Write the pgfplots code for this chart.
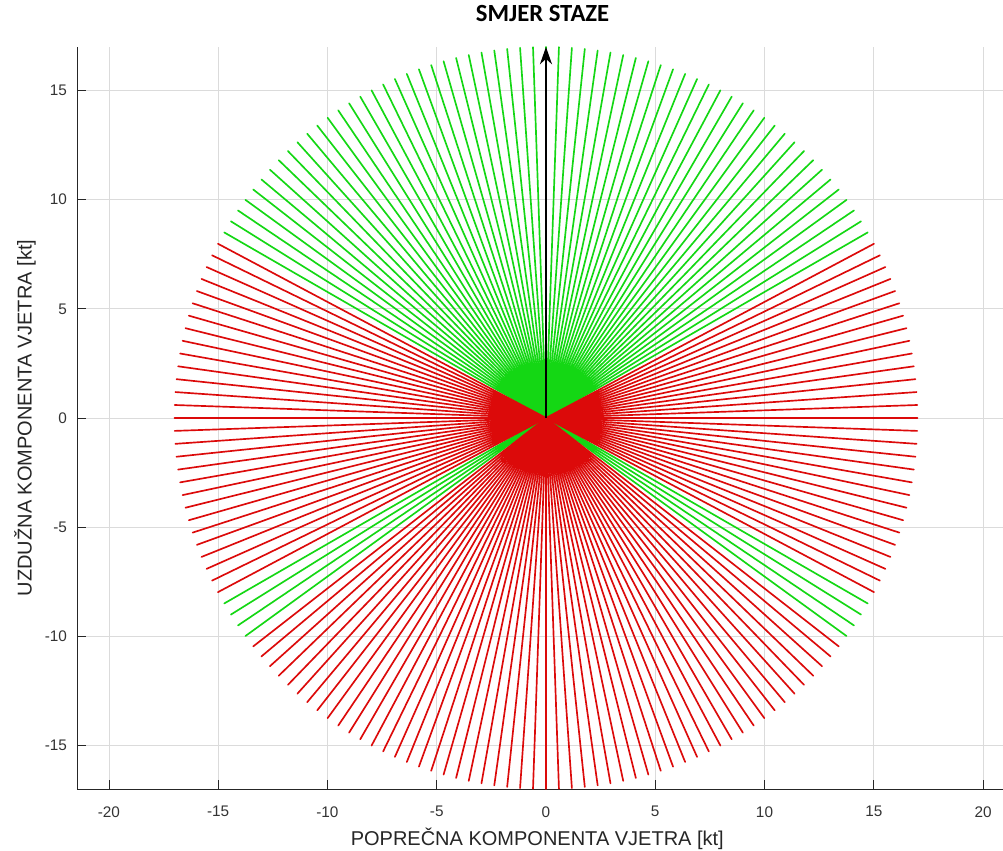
\documentclass[border=0pt]{standalone}
\usepackage{fontspec}
\setmainfont{Liberation Sans}
\newfontfamily\carlito{Carlito}
\usepackage{pgfplots}
\pgfplotsset{compat=1.18}
\usetikzlibrary{arrows.meta}
\definecolor{raygreen}{RGB}{20,215,20}
\definecolor{rayred}{RGB}{220,10,10}
\begin{document}
\begin{tikzpicture}
\useasboundingbox (0,0) rectangle (752.25pt,637.5pt);
\begin{axis}[
  at={(57.75pt,45.75pt)}, anchor=south west,
  x=16.39pt, y=16.37pt,
  xmin=-21.46, xmax=20.92, ymin=-17, ymax=17,
  clip=false,
  axis x line*=bottom, axis y line*=left,
  axis line style={-, black!85, line width=0.6pt},
  tick pos=left, tick align=inside,
  tick style={black!85, line width=0.6pt},
  major tick length=7pt,
  xtick={-20,-15,...,20}, ytick={-15,-10,...,15},
  grid=major,
  major grid style={black!14, line width=0.5pt},
  /pgf/number format/assume math mode=true,
  ticklabel style={font=\fontsize{11.5}{13}\selectfont, text=black!80},
  xticklabel shift=9.5pt,
  yticklabel shift=4pt,
  xlabel={POPREČNA KOMPONENTA VJETRA [kt]},
  ylabel={UZDUŽNA KOMPONENTA VJETRA [kt]},
  xlabel style={at={(axis description cs:0.497,-0.0768)}, anchor=base, font=\fontsize{15}{17}\selectfont, text=black!85},
  ylabel style={at={(axis description cs:-0.0489,0.5)}, anchor=base, rotate=0, font=\fontsize{15}{17}\selectfont, text=black!85},
  title={SMJER STAZE},
  title style={at={(axis description cs:0.5027,1.0229)}, anchor=base, font=\carlito\bfseries\fontsize{18.5}{20}\selectfont},
]
% green rays (angle in degrees, length in kt)
\addplot[data cs=polar, raygreen, line width=1.25pt, line join=round] coordinates {
(0,0) (30,17) (0,0) (32,17) (0,0) (34,17) (0,0) (36,17) (0,0) (38,17) (0,0) (40,17) (0,0) (42,17) (0,0) (44,17) (0,0) (46,17) (0,0) (48,17)
(0,0) (50,17) (0,0) (52,17) (0,0) (54,17) (0,0) (56,17) (0,0) (58,17) (0,0) (60,17) (0,0) (62,17) (0,0) (64,17) (0,0) (66,17) (0,0) (68,17)
(0,0) (70,17) (0,0) (72,17) (0,0) (74,17) (0,0) (76,17) (0,0) (78,17) (0,0) (80,17) (0,0) (82,17) (0,0) (84,17) (0,0) (86,17) (0,0) (88,17)
(0,0) (90,17) (0,0) (92,17) (0,0) (94,17) (0,0) (96,17) (0,0) (98,17) (0,0) (100,17) (0,0) (102,17) (0,0) (104,17) (0,0) (106,17) (0,0) (108,17)
(0,0) (110,17) (0,0) (112,17) (0,0) (114,17) (0,0) (116,17) (0,0) (118,17) (0,0) (120,17) (0,0) (122,17) (0,0) (124,17) (0,0) (126,17) (0,0) (128,17)
(0,0) (130,17) (0,0) (132,17) (0,0) (134,17) (0,0) (136,17) (0,0) (138,17) (0,0) (140,17) (0,0) (142,17) (0,0) (144,17) (0,0) (146,17) (0,0) (148,17)
(0,0) (150,17) (0,0)
};
\addplot[data cs=polar, raygreen, line width=1.25pt, line join=round] coordinates {
(0,0) (210,17) (0,0) (212,17) (0,0) (214,17) (0,0) (216,17) (0,0)
};
\addplot[data cs=polar, raygreen, line width=1.25pt, line join=round] coordinates {
(0,0) (324,17) (0,0) (326,17) (0,0) (328,17) (0,0) (330,17) (0,0)
};
% red rays
\addplot[data cs=polar, rayred, line width=1.25pt, line join=round] coordinates {
(0,0) (-28,17) (0,0) (-26,17) (0,0) (-24,17) (0,0) (-22,17) (0,0) (-20,17) (0,0) (-18,17) (0,0) (-16,17) (0,0) (-14,17) (0,0) (-12,17) (0,0) (-10,17)
(0,0) (-8,17) (0,0) (-6,17) (0,0) (-4,17) (0,0) (-2,17) (0,0) (0,17) (0,0) (2,17) (0,0) (4,17) (0,0) (6,17) (0,0) (8,17) (0,0) (10,17)
(0,0) (12,17) (0,0) (14,17) (0,0) (16,17) (0,0) (18,17) (0,0) (20,17) (0,0) (22,17) (0,0) (24,17) (0,0) (26,17) (0,0) (28,17) (0,0)
};
\addplot[data cs=polar, rayred, line width=1.25pt, line join=round] coordinates {
(0,0) (152,17) (0,0) (154,17) (0,0) (156,17) (0,0) (158,17) (0,0) (160,17) (0,0) (162,17) (0,0) (164,17) (0,0) (166,17) (0,0) (168,17) (0,0) (170,17)
(0,0) (172,17) (0,0) (174,17) (0,0) (176,17) (0,0) (178,17) (0,0) (180,17) (0,0) (182,17) (0,0) (184,17) (0,0) (186,17) (0,0) (188,17) (0,0) (190,17)
(0,0) (192,17) (0,0) (194,17) (0,0) (196,17) (0,0) (198,17) (0,0) (200,17) (0,0) (202,17) (0,0) (204,17) (0,0) (206,17) (0,0) (208,17) (0,0)
};
\addplot[data cs=polar, rayred, line width=1.25pt, line join=round] coordinates {
(0,0) (218,17) (0,0) (220,17) (0,0) (222,17) (0,0) (224,17) (0,0) (226,17) (0,0) (228,17) (0,0) (230,17) (0,0) (232,17) (0,0) (234,17) (0,0) (236,17)
(0,0) (238,17) (0,0) (240,17) (0,0) (242,17) (0,0) (244,17) (0,0) (246,17) (0,0) (248,17) (0,0) (250,17) (0,0) (252,17) (0,0) (254,17) (0,0) (256,17)
(0,0) (258,17) (0,0) (260,17) (0,0) (262,17) (0,0) (264,17) (0,0) (266,17) (0,0) (268,17) (0,0) (270,17) (0,0) (272,17) (0,0) (274,17) (0,0) (276,17)
(0,0) (278,17) (0,0) (280,17) (0,0) (282,17) (0,0) (284,17) (0,0) (286,17) (0,0) (288,17) (0,0) (290,17) (0,0) (292,17) (0,0) (294,17) (0,0) (296,17)
(0,0) (298,17) (0,0) (300,17) (0,0) (302,17) (0,0) (304,17) (0,0) (306,17) (0,0) (308,17) (0,0) (310,17) (0,0) (312,17) (0,0) (314,17) (0,0) (316,17)
(0,0) (318,17) (0,0) (320,17) (0,0) (322,17) (0,0)
};
% runway direction arrow
\addplot[black, line width=1.3pt, -{Stealth[length=13pt, width=9pt, inset=4pt]}] coordinates {(0,0) (0,17)};
\end{axis}
\end{tikzpicture}
\end{document}
